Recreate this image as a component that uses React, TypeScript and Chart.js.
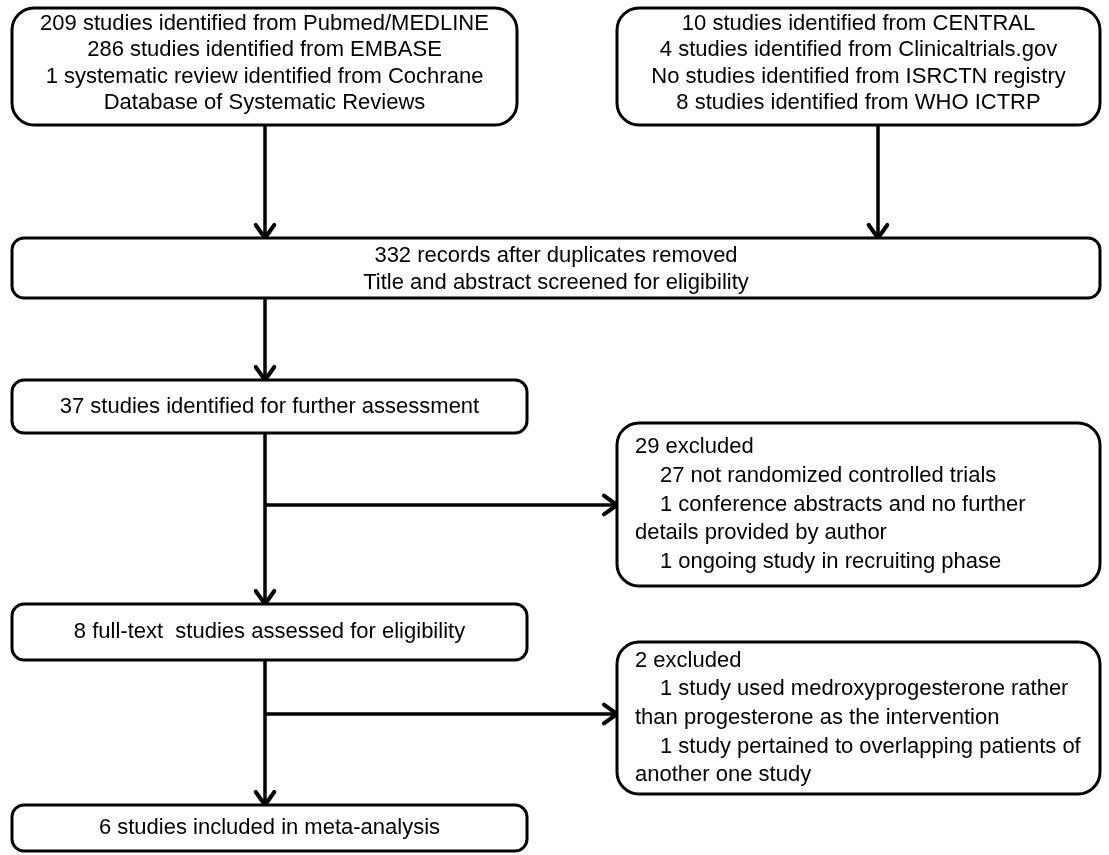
import React, { useEffect, useRef } from "react";
import { Chart, registerables } from "chart.js";

Chart.register(...registerables);

// ---- Content (text of each flow box) ----
const sourcesDatabases = [
  "209 studies identified from Pubmed/MEDLINE",
  "286 studies identified from EMBASE",
  "1 systematic review identified from Cochrane",
  "Database of Systematic Reviews",
];
const sourcesRegistries = [
  "10 studies identified from CENTRAL",
  "4 studies identified from Clinicaltrials.gov",
  "No studies identified from ISRCTN registry",
  "8 studies identified from WHO ICTRP",
];
const screenedLines = [
  "332 records after duplicates removed",
  "Title and abstract screened for eligibility",
];
const furtherAssessment = ["37 studies identified for further assessment"];
const excludedFirst = [
  "29 excluded",
  "\t27 not randomized controlled trials",
  "\t1 conference abstracts and no further",
  "details provided by author",
  "\t1 ongoing study in recruiting phase",
];
const fullText = ["8 full-text  studies assessed for eligibility"];
const excludedSecond = [
  "2 excluded",
  "\t1 study used medroxyprogesterone rather",
  "than progesterone as the intervention",
  "\t1 study pertained to overlapping patients of",
  "another one study",
];
const included = ["6 studies included in meta-analysis"];

// ---- Layout (in a 1109 x 855 coordinate space mapped through the scales) ----
const W = 1109;
const H = 855;
const LEFT_X = 12;
const MAIN_R = 527;
const SIDE_L = 617;
const SIDE_R = 1100;
const SPINE_X = 265;
const RIGHT_SPINE_X = 878;

type Box = {
  x0: number; x1: number; y0: number; y1: number; r: number;
  align: "center" | "left"; lines: string[]; lineH: number; dy: number;
};

const boxes: Box[] = [
  { x0: LEFT_X, x1: 517, y0: 8, y1: 125, r: 22, align: "center", lines: sourcesDatabases, lineH: 26.5, dy: -3 },
  { x0: SIDE_L, x1: SIDE_R, y0: 8, y1: 125, r: 22, align: "center", lines: sourcesRegistries, lineH: 26.5, dy: -3 },
  { x0: LEFT_X, x1: SIDE_R, y0: 238, y1: 298, r: 12, align: "center", lines: screenedLines, lineH: 27, dy: 1 },
  { x0: LEFT_X, x1: MAIN_R, y0: 380, y1: 433, r: 12, align: "center", lines: furtherAssessment, lineH: 27, dy: 0 },
  { x0: SIDE_L, x1: SIDE_R, y0: 423, y1: 586, r: 22, align: "left", lines: excludedFirst, lineH: 28.6, dy: 0 },
  { x0: LEFT_X, x1: MAIN_R, y0: 604, y1: 660, r: 12, align: "center", lines: fullText, lineH: 27, dy: 0 },
  { x0: SIDE_L, x1: SIDE_R, y0: 642, y1: 794, r: 22, align: "left", lines: excludedSecond, lineH: 28.6, dy: 0 },
  { x0: LEFT_X, x1: MAIN_R, y0: 805, y1: 851, r: 12, align: "center", lines: included, lineH: 27, dy: 0 },
];

type Conn = { pts: { x: number; y: number }[]; arrow: boolean };
const connectors: Conn[] = [
  { pts: [{ x: SPINE_X, y: 125 }, { x: SPINE_X, y: 238 }], arrow: true },
  { pts: [{ x: RIGHT_SPINE_X, y: 125 }, { x: RIGHT_SPINE_X, y: 238 }], arrow: true },
  { pts: [{ x: SPINE_X, y: 298 }, { x: SPINE_X, y: 380 }], arrow: true },
  { pts: [{ x: SPINE_X, y: 433 }, { x: SPINE_X, y: 604 }], arrow: true },
  { pts: [{ x: SPINE_X, y: 505 }, { x: SIDE_L, y: 505 }], arrow: true },
  { pts: [{ x: SPINE_X, y: 660 }, { x: SPINE_X, y: 805 }], arrow: true },
  { pts: [{ x: SPINE_X, y: 714 }, { x: SIDE_L, y: 714 }], arrow: true },
];

const FONT = '22px "Liberation Sans", Arial, Helvetica, sans-serif';
const INK = "#000000";

const flowPlugin = {
  id: "flowPlugin",
  afterDatasetsDraw(chart: any) {
    const ctx = chart.ctx as CanvasRenderingContext2D;
    const xs = chart.scales.x;
    const ys = chart.scales.y;
    const px = (v: number) => xs.getPixelForValue(v);
    const py = (v: number) => ys.getPixelForValue(v);

    ctx.save();
    // arrowheads
    ctx.strokeStyle = INK;
    ctx.lineWidth = 4;
    ctx.lineCap = "round";
    ctx.lineJoin = "round";
    for (const c of connectors) {
      if (!c.arrow) continue;
      const a = c.pts[c.pts.length - 2];
      const b = c.pts[c.pts.length - 1];
      const ax = px(a.x), ay = py(a.y), bx = px(b.x), by = py(b.y);
      const ang = Math.atan2(by - ay, bx - ax);
      const len = 16;
      const spread = 0.62;
      ctx.beginPath();
      ctx.moveTo(bx - len * Math.cos(ang - spread), by - len * Math.sin(ang - spread));
      ctx.lineTo(bx, by);
      ctx.lineTo(bx - len * Math.cos(ang + spread), by - len * Math.sin(ang + spread));
      ctx.stroke();
    }

    // boxes
    ctx.lineWidth = 3;
    ctx.lineCap = "butt";
    for (const b of boxes) {
      const x0 = px(b.x0), x1 = px(b.x1), y0 = py(b.y0), y1 = py(b.y1);
      ctx.beginPath();
      (ctx as any).roundRect(x0, y0, x1 - x0, y1 - y0, b.r);
      ctx.fillStyle = "#ffffff";
      ctx.fill();
      ctx.strokeStyle = INK;
      ctx.stroke();

      ctx.fillStyle = INK;
      ctx.font = FONT;
      ctx.textBaseline = "middle";
      const n = b.lines.length;
      const cy = (y0 + y1) / 2 + b.dy;
      b.lines.forEach((raw, i) => {
        const y = cy + (i - (n - 1) / 2) * b.lineH;
        if (b.align === "center") {
          ctx.textAlign = "center";
          ctx.fillText(raw, (x0 + x1) / 2, y);
        } else {
          ctx.textAlign = "left";
          const indent = raw.startsWith("\t");
          const txt = indent ? raw.slice(1) : raw;
          ctx.fillText(txt, x0 + 18 + (indent ? 25 : 0), y);
        }
      });
    }
    ctx.restore();
  },
};

export default function App() {
  const canvasRef = useRef<HTMLCanvasElement | null>(null);

  useEffect(() => {
    if (!canvasRef.current) return;
    const chart = new Chart(canvasRef.current, {
      type: "scatter",
      data: {
        datasets: connectors.map((c) => ({
          data: c.pts,
          showLine: true,
          borderColor: INK,
          borderWidth: 3.5,
          pointRadius: 0,
          pointHoverRadius: 0,
          fill: false,
        })),
      },
      options: {
        animation: false,
        responsive: true,
        maintainAspectRatio: false,
        layout: { padding: 0 },
        events: [],
        scales: {
          x: { type: "linear", min: 0, max: W, display: false },
          y: { type: "linear", min: 0, max: H, reverse: true, display: false },
        },
        plugins: {
          legend: { display: false },
          tooltip: { enabled: false },
          title: { display: false },
        },
      },
      plugins: [flowPlugin],
    });
    return () => chart.destroy();
  }, []);

  return (
    <div
      style={{
        position: "fixed",
        left: 0,
        top: 0,
        width: W,
        height: H,
        background: "#ffffff",
      }}
    >
      <canvas ref={canvasRef} />
    </div>
  );
}
